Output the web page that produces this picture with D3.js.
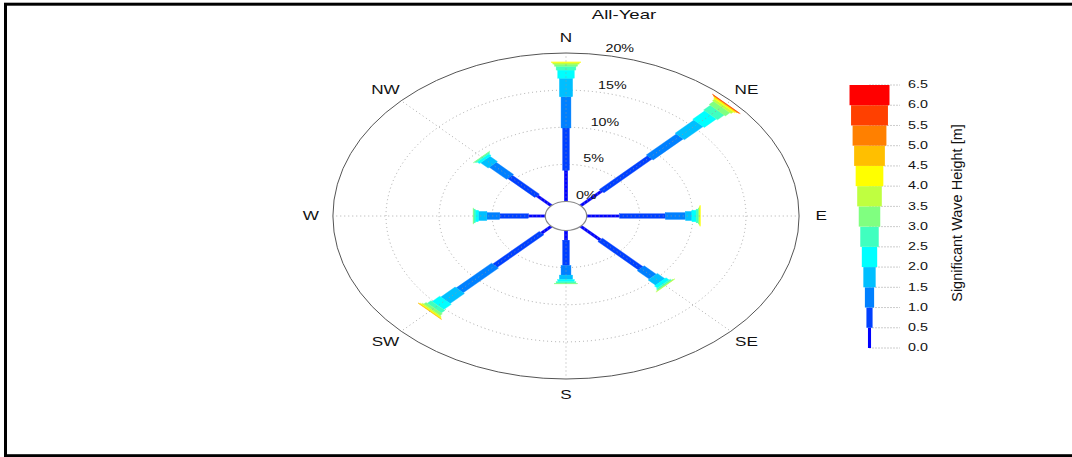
<!DOCTYPE html>
<html>
<head>
<meta charset="utf-8">
<script src="https://cdn.jsdelivr.net/npm/d3@7"></script>
<style>
  body { margin: 0; background: #fff; }
  svg { display: block; }
  text { font-family: "Liberation Sans", Arial, Helvetica, sans-serif; fill: #111; }
</style>
</head>
<body>
<script>
// Direction sectors and wave-height classes (m)
const directions = ["N", "NE", "E", "SE", "S", "SW", "W", "NW"];
const heightEdges = [0.0, 0.5, 1.0, 1.5, 2.0, 2.5, 3.0, 3.5, 4.0, 4.5, 5.0, 5.5, 6.0, 6.5];
const classColors = ["#0000ff", "#0040ff", "#0080ff", "#00bfff", "#00ffff", "#40ffbf", "#80ff80",
                     "#bfff40", "#ffff00", "#ffbf00", "#ff8000", "#ff4000", "#ff0000"];

// Occurrence (%) per wave-height class for each direction sector
const freqN  = [4.2, 5.7, 4.2, 2.5, 1.1, 0.5, 0.3, 0.2, 0.1, 0, 0, 0, 0];
const freqNE = [2.8, 6.4, 4.0, 2.5, 1.6, 0.9, 0.6, 0.3, 0.15, 0.08, 0.05, 0.02, 0];
const freqE  = [3.1, 4.3, 1.9, 0.6, 0.4, 0.2, 0.1, 0.06, 0.04, 0, 0, 0, 0];
const freqSE = [2.6, 5.4, 1.6, 1.0, 0.4, 0.2, 0.06, 0.04, 0, 0, 0, 0, 0];
const freqS  = [1.3, 3.4, 1.3, 0.6, 0.3, 0.2, 0.1, 0, 0, 0, 0, 0, 0];
const freqSW = [1.3, 6.2, 4.7, 1.9, 1.0, 0.5, 0.3, 0.15, 0.1, 0.05, 0, 0, 0];
const freqW  = [1.6, 2.7, 1.2, 0.8, 0.3, 0.15, 0.05, 0, 0, 0, 0, 0, 0];
const freqNW = [1.9, 3.6, 2.3, 1.0, 0.3, 0.15, 0.05, 0, 0, 0, 0, 0, 0];

const ringTicks = [0, 5, 10, 15, 20];
const legendTicks = ["0.0", "0.5", "1.0", "1.5", "2.0", "2.5", "3.0", "3.5", "4.0", "4.5", "5.0", "5.5", "6.0", "6.5"];

const sectorFreqs = [freqN, freqNE, freqE, freqSE, freqS, freqSW, freqW, freqNW];

const W = 1072, H = 457;
const SX = 1.43;               // horizontal stretch of the plot frame
const cx = 566 / SX, cy = 216; // rose centre (in stretched units)

const svg = d3.select("body").append("svg")
  .attr("width", W).attr("height", H);

// outer frame
svg.append("rect")
  .attr("x", 5.5).attr("y", 4.2).attr("width", 1100).attr("height", 451.5)
  .attr("fill", "none").attr("stroke", "#000").attr("stroke-width", 3);

const plot = svg.append("g").attr("transform", `scale(${SX},1)`);

// radial scale: 0 % sits on the calm circle
const r = d3.scaleLinear().domain([0, 20]).range([14.5, 163]);
const angle = d3.scaleOrdinal().domain(directions).range(directions.map((d, i) => i * 45));
const barWidth = d3.scaleLinear().domain([0, 12]).range([2.3, 2.3 * 13]);

// title
plot.append("text")
  .attr("x", 624 / SX).attr("y", 19.5)
  .attr("text-anchor", "middle").attr("font-size", 13)
  .text("All-Year");

// dotted rings
plot.append("g").selectAll("circle")
  .data(ringTicks.filter(t => t > 0 && t < 20))
  .join("circle")
  .attr("cx", cx).attr("cy", cy).attr("r", d => r(d))
  .attr("fill", "none").attr("stroke", "#a8a8a8").attr("stroke-width", 1)
  .attr("stroke-dasharray", "1,3").attr("vector-effect", "non-scaling-stroke");

// outer ring
plot.append("circle")
  .attr("cx", cx).attr("cy", cy).attr("r", r(20))
  .attr("fill", "none").attr("stroke", "#555").attr("stroke-width", 1)
  .attr("vector-effect", "non-scaling-stroke");

// stacked bars per sector
const bars = plot.append("g");
directions.forEach((dir, i) => {
  const g = bars.append("g")
    .attr("transform", `translate(${cx},${cy}) rotate(${angle(dir)})`);
  const stacked = [];
  let acc = 0;
  sectorFreqs[i].forEach((v, k) => {
    if (v > 0) stacked.push({ k, start: acc, end: acc + v });
    acc += v;
  });
  g.selectAll("rect").data(stacked).join("rect")
    .attr("x", d => -barWidth(d.k) / 2)
    .attr("y", d => -r(d.end))
    .attr("width", d => barWidth(d.k))
    .attr("height", d => r(d.end) - r(d.start))
    .attr("fill", d => classColors[d.k])
    .attr("stroke", d => classColors[d.k]).attr("stroke-width", 0.3);
});

// spokes
plot.append("g").selectAll("line")
  .data(directions)
  .join("line")
  .attr("transform", d => `translate(${cx},${cy}) rotate(${angle(d)})`)
  .attr("x1", 0).attr("y1", -r(0)).attr("x2", 0).attr("y2", -r(20))
  .attr("stroke", "#9a9a9a").attr("stroke-width", 1).attr("stroke-opacity", 0.8)
  .attr("stroke-dasharray", "1,3").attr("vector-effect", "non-scaling-stroke");

// calm circle
plot.append("circle")
  .attr("cx", cx).attr("cy", cy).attr("r", r(0))
  .attr("fill", "#fff").attr("stroke", "#888").attr("stroke-width", 1.2)
  .attr("vector-effect", "non-scaling-stroke");

// percentage labels
const labA = 8 * Math.PI / 180;
plot.append("g").selectAll("text")
  .data(ringTicks)
  .join("text")
  .attr("x", d => cx + r(d) * Math.sin(labA) + 4.9)
  .attr("y", d => cy - r(d) * Math.cos(labA) - 2.5)
  .attr("font-size", 10)
  .text(d => d + "%");

// direction labels
const labR = 178.5;
plot.append("g").selectAll("text")
  .data(directions)
  .join("text")
  .attr("x", d => cx + labR * Math.sin(angle(d) * Math.PI / 180))
  .attr("y", d => cy - labR * Math.cos(angle(d) * Math.PI / 180))
  .attr("text-anchor", "middle").attr("dominant-baseline", "central")
  .attr("font-size", 12)
  .text(d => d);

// colour legend
const ly = d3.scaleLinear().domain([0, 6.5]).range([348, 85]);
const lx = 869.5 / SX;
const legW = d3.scaleLinear().domain([0, 12]).range([2.15, 2.15 * 13]);
const leg = plot.append("g");
leg.selectAll("line").data(legendTicks).join("line")
  .attr("x1", lx).attr("x2", 900 / SX)
  .attr("y1", d => ly(+d)).attr("y2", d => ly(+d))
  .attr("stroke", "#999").attr("stroke-width", 1).attr("stroke-dasharray", "1,2")
  .attr("vector-effect", "non-scaling-stroke");
leg.selectAll("rect").data(classColors).join("rect")
  .attr("x", (d, k) => lx - legW(k) / 2)
  .attr("y", (d, k) => ly(heightEdges[k + 1]))
  .attr("width", (d, k) => legW(k))
  .attr("height", (d, k) => ly(heightEdges[k]) - ly(heightEdges[k + 1]))
  .attr("fill", d => d);
leg.selectAll("text").data(legendTicks).join("text")
  .attr("x", 908 / SX).attr("y", d => ly(+d))
  .attr("dominant-baseline", "central").attr("font-size", 10)
  .text(d => d);

// legend title
svg.append("text")
  .attr("transform", "translate(957,213) rotate(-90)")
  .attr("text-anchor", "middle").attr("dominant-baseline", "central")
  .attr("font-size", 14.5)
  .text("Significant Wave Height [m]");
</script>
</body>
</html>
